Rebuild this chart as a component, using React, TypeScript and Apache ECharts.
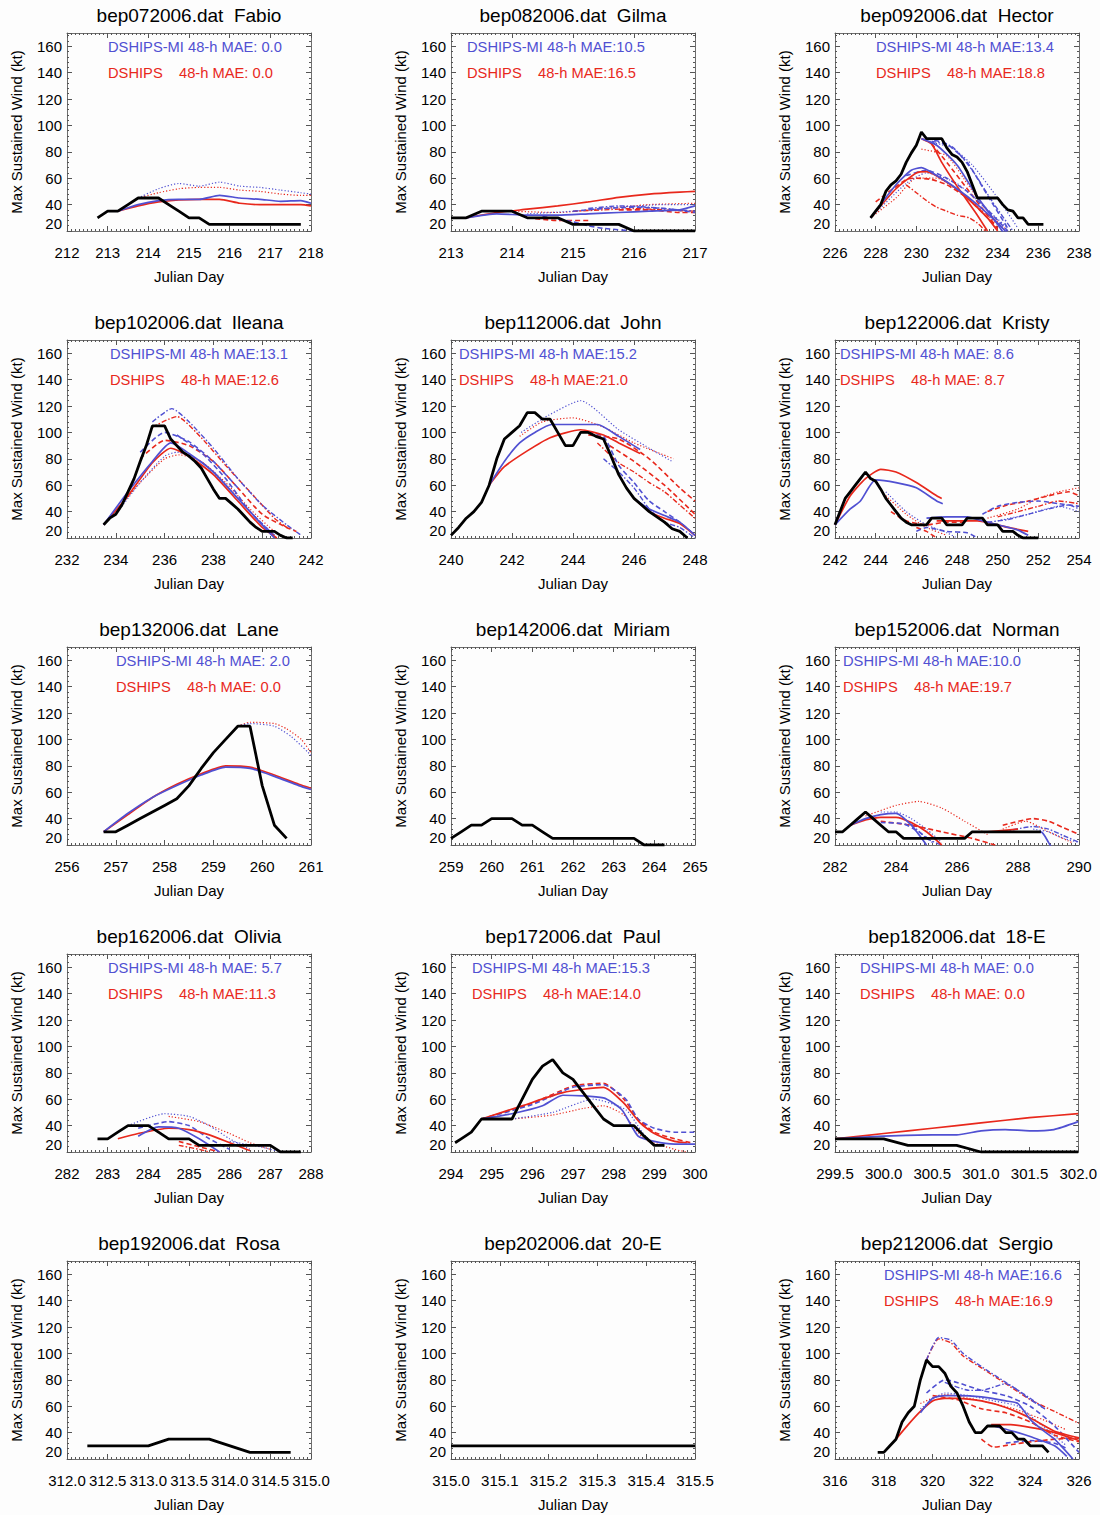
import React, { useEffect, useRef } from "react";
import * as echarts from "echarts";

type Pt = [number, number];
type Line = Pt[];

// ---------------- Fabio ----------------
const fabioAxis = [212, 218, 1];
const fabioBest: Line = [[212.75,30],[213,35],[213.25,35],[213.5,40],[213.75,45],[214,45],[214.25,45],[214.5,40],[214.75,35],[215,30],[215.25,30],[215.5,25],[217.75,25]];
const fabioMiSolid: Line[] = [[[213.25,35],[213.75,40],[214.25,43],[214.75,44],[215.25,44],[215.75,47],[216.25,45],[216.75,44],[217.25,42.5],[217.75,43],[218,41]]];
const fabioMiDotted: Line[] = [[[213.75,45],[214.25,52],[214.75,56],[215.25,54],[215.75,57],[216.25,54],[216.75,53],[217.25,51],[217.75,49],[218,48]]];
const fabioDsSolid: Line[] = [[[213.25,35],[213.75,39],[214.25,42],[214.75,43.5],[215.25,44],[215.75,44],[216.25,41],[216.75,40],[217.25,40],[217.75,40],[218,39]]];
const fabioDsDotted: Line[] = [[[213.75,45],[214.25,49],[214.75,52],[215.25,53],[215.75,53],[216.25,51],[216.75,50],[217.25,48],[217.75,47],[218,47]]];

// ---------------- Gilma ----------------
const gilmaAxis = [213, 217, 1];
const gilmaBest: Line = [[213,30],[213.25,30],[213.5,35],[214,35],[214.25,30],[214.75,30],[215,25],[215.75,25],[216,20],[217,20]];
const gilmaMiSolid: Line[] = [[[213.25,30],[213.75,33],[214.25,32],[214.75,32],[215.25,33],[215.75,34],[216.25,35],[216.75,36],[217,39]]];
const gilmaMiDashed: Line[] = [[[214.5,31],[215,27],[215.25,24],[215.5,22],[216,20]],[[215,35],[215.5,37],[216,38],[216.5,37],[217,34]]];
const gilmaMiDashdot: Line[] = [[[215.25,37],[215.75,39],[216.25,38],[216.75,36],[217,35]]];
const gilmaMiDotted: Line[] = [[[214.25,33],[215,35],[215.75,38],[216.5,40],[217,40]]];
const gilmaDsSolid: Line[] = [[[213.25,30],[213.75,34],[214.25,36.5],[214.75,39],[215.25,42],[215.75,45.5],[216.25,48],[216.75,49.5],[217,50]]];
const gilmaDsDashed: Line[] = [[[214.25,30],[214.75,28],[215.25,28]],[[215.75,36],[216.25,36],[216.75,34],[217,34]]];
const gilmaDsDashdot: Line[] = [[[215,35],[215.5,36],[216,37],[216.5,36],[217,35]]];
const gilmaDsDotted: Line[] = [[[214,35],[214.75,34],[215.5,37],[216.25,40],[217,41]]];

// ---------------- Hector ----------------
const hectorAxis = [226, 238, 2];
const hectorBest: Line = [[227.75,30],[228,35],[228.25,40],[228.5,50],[228.75,55],[229,58],[229.25,63],[229.5,72],[229.75,79],[230,85],[230.25,95],[230.5,90],[231,90],[231.25,90],[231.5,83],[231.75,78],[232,76],[232.25,72],[232.5,65],[232.75,55],[233,45],[234,45],[234.25,40],[234.5,36],[234.75,35],[235,30],[235.25,30],[235.5,25],[236.25,25]];
const hectorMiSolid: Line[] = [[[227.75,30],[229,55],[229.75,66],[230.25,68],[231,62],[232,52],[233,40],[234,26],[234.5,18]],[[230.25,90],[231,85],[232,70],[233,46],[234,25],[234.4,16]]];
const hectorMiDashed: Line[] = [[[230.5,90],[231.5,86],[232.5,72],[233.5,47],[234.5,22]],[[229.5,62],[230.5,66],[231.5,60],[232.5,50],[233.5,36],[234.5,20]]];
const hectorMiDashdot: Line[] = [[[230.75,88],[231.75,84],[232.75,66],[233.75,42],[234.75,20]]];
const hectorMiDotted: Line[] = [[[230.5,88],[231.75,83],[232.75,70],[234,45],[235,22]],[[227.75,30],[229.5,56],[230.5,64],[232,56],[233.5,36],[234.5,22]]];
const hectorDsSolid: Line[] = [[[227.75,30],[229,52],[230,64],[230.5,65],[231.5,57],[232.5,45],[233.5,30],[234,20]],[[230.25,90],[230.75,86],[231.25,72],[232,54],[233,32],[233.5,20]]];
const hectorDsDashed: Line[] = [[[228,42],[229.5,59],[230,60],[230.75,59],[231.5,55],[232.5,45],[233.5,30],[234,22]],[[230.75,86],[231.5,72],[232.5,52],[233.5,32],[234,22]]];
const hectorDsDashdot: Line[] = [[[229.5,55],[230,49],[230.5,43],[231,38],[231.5,35],[232,32],[232.6,30],[233,26],[233.4,20]]];
const hectorDsDotted: Line[] = [[[230.25,82],[231.5,77],[232.5,56],[233.5,35],[234.5,20]],[[227.75,30],[229,45],[230,60],[231,60],[232.5,45],[234,25]]];

// ---------------- Ileana ----------------
const ileanaAxis = [232, 242, 2];
const ileanaBest: Line = [[233.5,30],[233.75,35],[234,38],[234.25,45],[234.5,55],[234.75,65],[235,78],[235.25,90],[235.5,105],[236,105],[236.25,95],[236.5,90],[236.75,85],[237,82],[237.25,78],[237.5,73],[237.75,65],[238,57],[238.25,50],[238.5,50],[238.75,46],[239,42],[239.25,37],[239.5,32],[239.75,28],[240,25],[240.5,25],[240.75,22],[241,20],[241.25,20]];
const ileanaMiSolid: Line[] = [[[233.5,30],[234.5,55],[235.5,78],[236.25,92],[237,84],[238,70],[239,50],[240,30],[240.5,20]]];
const ileanaMiDashed: Line[] = [[[235,85],[236,100],[237,93],[238,78],[239,58]],[[236.5,98],[237.5,85],[238.5,65],[239.5,40],[240.5,22]]];
const ileanaMiDashdot: Line[] = [[[235.5,108],[236.3,118],[237,108],[238,88],[239,65],[240,45],[241,30],[241.6,22]]];
const ileanaMiDotted: Line[] = [[[234,38],[235,62],[236,82],[236.5,85],[237.5,78],[238.5,60],[239.5,40],[240.5,22]]];
const ileanaDsSolid: Line[] = [[[233.5,30],[234.5,52],[235.5,77],[236.25,88],[237,82],[238,68],[239,48],[240,28],[240.6,20]]];
const ileanaDsDashed: Line[] = [[[235,80],[236,94],[237,90],[238,78],[239,58],[240,38],[241,28],[241.4,25]]];
const ileanaDsDashdot: Line[] = [[[235.5,104],[236.5,112],[237.5,96],[238.5,75],[239.5,55],[240.5,35],[241,28]]];
const ileanaDsDotted: Line[] = [[[234,40],[235,62],[236,80],[236.6,83],[237.5,78],[238.5,62],[239.5,42],[240.5,25],[241,20]]];

// ---------------- John ----------------
const johnAxis = [240, 248, 2];
const johnBest: Line = [[240,22],[240.25,28],[240.5,35],[240.75,40],[241,47],[241.25,60],[241.5,80],[241.75,95],[242,100],[242.25,105],[242.5,115],[242.75,115],[243,110],[243.25,110],[243.5,100],[243.75,90],[244,90],[244.25,100],[244.5,100],[244.75,97],[245,95],[245.25,82],[245.5,68],[245.75,58],[246,50],[246.25,45],[246.5,40],[246.75,36],[247,32],[247.25,27],[247.5,25],[247.75,20]];
const johnMiSolid: Line[] = [[[241.25,60],[241.75,78],[242.25,92],[242.75,100],[243.3,106],[244,106],[244.8,106],[245.5,97],[246.2,87]],[[246,50],[246.5,42],[247,37],[247.5,32],[248,22]]];
const johnMiDashed: Line[] = [[[244.5,100],[245,97],[245.5,75],[246,62],[246.5,48],[247,40],[247.5,32],[248,22]]];
const johnMiDashdot: Line[] = [[[245,80],[245.5,70],[246,58],[246.5,42],[247,32],[247.5,28],[248,20]]];
const johnMiDotted: Line[] = [[[242.3,100],[243.2,113],[244.25,124],[245.5,102],[246.5,88],[247.25,78]]];
const johnDsSolid: Line[] = [[[241.25,60],[241.75,74],[242.5,86],[243.25,96],[244.25,102],[245,98],[245.5,92],[246.2,84]],[[246,50],[246.5,40],[247,35],[247.5,31],[248,22]]];
const johnDsDashed: Line[] = [[[244.5,98],[245.5,95],[246.5,80],[247.5,58],[248,48]],[[245.2,90],[246,78],[247,60],[248,38]]];
const johnDsDashdot: Line[] = [[[244.8,92],[245.5,77],[246,70],[246.5,62],[247,55],[247.5,45],[248,35]]];
const johnDsDotted: Line[] = [[[242.25,97],[243,108],[244,111],[245,104],[246,92],[247.3,80]]];

// ---------------- Kristy ----------------
const kristyAxis = [242, 254, 2];
const kristyBest: Line = [[242,30],[242.25,40],[242.5,50],[242.75,55],[243,60],[243.25,65],[243.5,70],[243.75,65],[244,63],[244.25,57],[244.5,50],[244.75,45],[245,40],[245.25,35],[245.5,32],[245.75,30],[246.5,30],[246.75,35],[247.25,35],[247.5,30],[248.25,30],[248.5,35],[249.25,35],[249.5,30],[250,30],[250.25,25],[250.75,25],[251,22],[251.25,20],[252,20]];
const kristyMiSolid: Line[] = [[[242,30],[242.75,42],[243.25,48],[244,64],[245,62],[246,58],[247,48],[247.3,46]],[[246.5,35],[247.5,36],[248.5,36],[249,34],[250,30],[251,26],[251.5,22]]];
const kristyMiDashed: Line[] = [[[249.25,38],[250,44],[251,47],[252,48],[253,46],[254,44]],[[246,25],[246.5,28],[247.5,25],[248.5,24],[249,20]]];
const kristyMiDashdot: Line[] = [[[249.5,32],[250.5,34],[251.5,38],[252.5,42],[253.5,45],[254,42]]];
const kristyMiDotted: Line[] = [[[244.5,55],[245.5,40],[246.5,30],[247.5,24],[248,20]],[[250,33],[251.5,38],[253,44],[254,40]]];
const kristyDsSolid: Line[] = [[[242,30],[242.75,52],[243.5,65],[244.25,72],[245,70],[246,62],[247,52],[247.25,50]],[[247,33],[248,33],[249,33],[250,30],[250.5,28],[251.5,25]]];
const kristyDsDashed: Line[] = [[[249.5,40],[250.5,45],[251.5,48],[252.5,52],[253.5,55],[254,52]],[[246,28],[246.5,25],[247,20]],[[244.75,40],[245.5,33],[246.5,30],[247.5,32],[248.5,32]]];
const kristyDsDashdot: Line[] = [[[250,36],[251,40],[252,44],[253,48],[254,46]]];
const kristyDsDotted: Line[] = [[[249.5,35],[251,42],[252,50],[253,55],[254,58]],[[244.5,52],[245.5,38],[246.5,28],[247.5,22]]];

// ---------------- Lane ----------------
const laneAxis = [256, 261, 1];
const laneBest: Line = [[256.75,30],[257,30],[257.25,35],[257.5,40],[257.75,45],[258,50],[258.25,55],[258.5,65],[258.75,78],[259,90],[259.25,100],[259.5,110],[259.75,110],[260,65],[260.25,35],[260.5,25]];
const laneMiSolid: Line[] = [[[256.75,30],[257.25,44],[257.75,56],[258.25,65],[258.75,73],[259.25,79],[259.75,78],[260.25,72],[260.75,65],[261,62]]];
const laneMiDotted: Line[] = [[[259.5,110],[259.75,112],[260.25,110],[260.6,102],[261,88]]];
const laneDsSolid: Line[] = [[[256.75,30],[257.25,43],[257.75,56],[258.25,66],[258.75,74],[259.25,80],[259.75,79],[260.25,73],[260.75,66],[261,63]]];
const laneDsDotted: Line[] = [[[259.5,110],[259.75,113],[260.25,112],[260.5,108],[260.8,100],[261,90]]];

// ---------------- Miriam ----------------
const miriamAxis = [259, 265, 1];
const miriamBest: Line = [[259,25],[259.25,30],[259.5,35],[259.75,35],[260,40],[260.5,40],[260.75,35],[261,35],[261.25,30],[261.5,25],[263.5,25],[263.75,20],[264.25,20]];

// ---------------- Norman ----------------
const normanAxis = [282, 290, 2];
const normanBest: Line = [[282,30],[282.25,30],[282.5,35],[282.75,40],[283,45],[283.25,40],[283.5,35],[283.75,30],[284,30],[284.25,25],[286.25,25],[286.5,30],[288.75,30]];
const normanMiSolid: Line[] = [[[282.5,35],[283,40],[283.5,43],[284,44],[284.5,35],[285,20]],[[286.5,30],[288.75,30],[289,22],[289.1,18]]];
const normanMiDashed: Line[] = [[[283.5,37],[284.25,36],[284.75,30],[285.2,22]]];
const normanMiDashdot: Line[] = [[[284.5,36],[285,25],[285.5,20]],[[287.5,30],[288.5,34],[289,32],[289.5,27],[290,22]]];
const normanMiDotted: Line[] = [[[283.5,45],[284,45],[284.5,40],[285,32],[285.5,22]],[[288.5,32],[289,30],[289.5,25],[290,22]]];
const normanDsSolid: Line[] = [[[282.5,35],[283,39],[283.5,41],[284,41],[284.5,37],[285,30],[285.5,20]],[[287,30],[288,32]]];
const normanDsDashed: Line[] = [[[283.5,38],[284.5,35],[285.5,30],[286.5,25],[287.25,20]],[[287.5,35],[288.5,40],[289,38],[289.5,33],[290,28]]];
const normanDsDotted: Line[] = [[[283,42],[284,50],[284.75,53],[285.5,48],[286.25,38],[287,28]],[[287.5,32],[288.25,38],[289,30],[289.75,22]]];

// ---------------- Olivia ----------------
const oliviaAxis = [282, 288, 1];
const oliviaBest: Line = [[282.75,30],[283,30],[283.25,35],[283.5,40],[284,40],[284.25,35],[284.5,30],[285,30],[285.25,25],[287,25],[287.25,20],[287.75,20]];
const oliviaMiSolid: Line[] = [[[283.75,32],[284.25,39],[284.75,38],[285.25,30],[285.75,20]]];
const oliviaMiDashed: Line[] = [[[283.75,38],[284.5,43],[285,40],[285.5,30],[286,22]]];
const oliviaMiDotted: Line[] = [[[283.5,40],[284.4,49],[285,47],[285.5,40],[286,30],[286.5,22]],[[286,28],[286.75,24],[287.25,20]]];
const oliviaDsSolid: Line[] = [[[283.25,30],[283.75,34],[284.5,38],[285,37],[285.5,33],[286,27],[286.5,21]]];
const oliviaDsDashed: Line[] = [[[284.75,28],[285.25,24],[285.75,20]]];
const oliviaDsDashdot: Line[] = [[[284.75,25],[285.25,22],[285.5,20]]];
const oliviaDsDotted: Line[] = [[[284.5,47],[285.25,43],[286,34],[286.5,27],[287,22]]];

// ---------------- Paul ----------------
const paulAxis = [294, 300, 1];
const paulBest: Line = [[294.1,27],[294.25,30],[294.5,35],[294.75,45],[295.5,45],[295.75,60],[296,75],[296.25,85],[296.5,90],[296.75,80],[297,75],[297.25,65],[297.5,55],[297.75,45],[298,40],[298.5,40],[298.75,32],[299,25],[299.25,25]];
const paulMiSolid: Line[] = [[[294.75,45],[295.5,49],[296.25,55],[296.75,63],[297.75,61],[298.2,52],[298.6,32],[299,28],[299.5,26],[300,26]]];
const paulMiDashed: Line[] = [[[294.75,45],[296,56],[297,69],[297.75,71],[298.3,60],[298.6,45],[299,38],[299.5,35],[300,35]]];
const paulMiDotted: Line[] = [[[295.5,45],[296.5,50],[297.5,60],[298.3,52],[298.7,35],[299,25]]];
const paulDsSolid: Line[] = [[[294.75,45],[295.75,55],[296.75,65],[297.75,69],[298.25,57],[298.65,42],[299,34],[299.5,28],[299.8,27]]];
const paulDsDashed: Line[] = [[[294.75,45],[296,57],[297,70],[297.75,72],[298.25,60],[298.6,45],[299,35],[299.5,30],[299.9,27]]];
const paulDsDotted: Line[] = [[[295.5,45],[296.5,48],[297.25,53],[297.75,55],[298.25,48],[298.75,30],[299.5,22],[299.8,20]]];

// ---------------- 18-E ----------------
const e18Axis = [299.5, 302.0, 0.5];
const e18Best: Line = [[299.5,30],[300,30],[300.25,25],[300.75,25],[301,20],[302,20]];
const e18MiSolid: Line[] = [[[299.5,30],[300,32],[300.5,33],[300.75,33],[301,36],[301.25,37],[301.5,36],[301.75,37],[302,43]]];
const e18DsSolid: Line[] = [[[299.5,30],[300,34],[300.5,38],[301,42],[301.5,46],[302,49]]];

// ---------------- Rosa ----------------
const rosaAxis = [312.0, 315.0, 0.5];
const rosaBest: Line = [[312.25,30],[313,30],[313.25,35],[313.75,35],[314.25,25],[314.75,25]];

// ---------------- 20-E ----------------
const e20Axis = [315.0, 315.5, 0.1];
const e20Best: Line = [[315.0,30],[315.5,30]];

// ---------------- Sergio ----------------
const sergioAxis = [316, 326, 2];
const sergioBest: Line = [[317.75,25],[318,25],[318.25,30],[318.5,35],[318.75,48],[319,55],[319.25,60],[319.5,80],[319.75,95],[320,90],[320.25,90],[320.5,85],[320.75,75],[321,70],[321.25,60],[321.5,48],[321.75,40],[322,40],[322.25,45],[322.75,45],[323,40],[323.25,40],[323.5,35],[323.75,35],[324,30],[324.5,30],[324.75,25]];
const sergioMiSolid: Line[] = [[[319.5,55],[320,66],[320.5,68],[321,68],[322,67],[323,64],[323.5,62],[324,50],[324.5,42],[325,35],[325.75,20]],[[322.5,45],[323.5,40],[324,37],[325,30],[325.5,22]]];
const sergioMiDashed: Line[] = [[[319.75,70],[320.5,80],[321,78],[322,72],[323,68],[324,60],[325,45],[326,25]],[[323,32],[324,34],[325,32],[325.5,28]]];
const sergioMiDashdot: Line[] = [[[319.75,95],[320.25,112],[320.75,110],[321.25,100],[322,90],[323,78],[324,66],[324.6,58]],[[320.5,78],[321.5,72],[322,72],[323,77],[324,65],[324.6,58]]];
const sergioMiDotted: Line[] = [[[319.5,58],[320.5,70],[321.5,68],[322.5,64],[323.5,60],[324.5,45],[325.5,30]]];
const sergioDsSolid: Line[] = [[[318.5,35],[319,46],[319.5,56],[320,64],[320.5,66],[321,66],[322,64],[323,59],[324,51],[325,41],[326,36]],[[322.4,46],[323.2,46],[324.3,43],[325,40],[326,34]]];
const sergioDsDashed: Line[] = [[[320,68],[321,65],[322,58],[323,55],[324,48],[325,38],[326,33]],[[322,35],[322.5,29],[323.25,31],[324,33],[325,35],[326,36]]];
const sergioDsDashdot: Line[] = [[[319.75,95],[320.25,111],[320.75,108],[321.25,98],[322,89],[323,77],[324,65],[325,56],[326,47]]];
const sergioDsDotted: Line[] = [[[319.5,62],[320.5,69],[321.5,66],[322.5,62],[323.5,57],[324.5,50],[325.5,42]]];

// ---------------- titles & MAE labels ----------------
const titles = [
  "bep072006.dat  Fabio", "bep082006.dat  Gilma", "bep092006.dat  Hector",
  "bep102006.dat  Ileana", "bep112006.dat  John", "bep122006.dat  Kristy",
  "bep132006.dat  Lane", "bep142006.dat  Miriam", "bep152006.dat  Norman",
  "bep162006.dat  Olivia", "bep172006.dat  Paul", "bep182006.dat  18-E",
  "bep192006.dat  Rosa", "bep202006.dat  20-E", "bep212006.dat  Sergio",
];
const maeMi = [" 0.0", "10.5", "13.4", "13.1", "15.2", " 8.6", " 2.0", "", "10.0", " 5.7", "15.3", " 0.0", "", "", "16.6"];
const maeDs = [" 0.0", "16.5", "18.8", "12.6", "21.0", " 8.7", " 0.0", "", "19.7", "11.3", "14.0", " 0.0", "", "", "16.9"];
const legendDx = [41, 16, 41, 43, 8, 5, 49, 0, 8, 41, 21, 25, 0, 0, 49];

type Sets = { solid?: Line[]; dashed?: Line[]; dashdot?: Line[]; dotted?: Line[] };
const panels: { axis: number[]; best: Line; mi: Sets; ds: Sets }[] = [
  { axis: fabioAxis, best: fabioBest, mi: { solid: fabioMiSolid, dotted: fabioMiDotted }, ds: { solid: fabioDsSolid, dotted: fabioDsDotted } },
  { axis: gilmaAxis, best: gilmaBest, mi: { solid: gilmaMiSolid, dashed: gilmaMiDashed, dashdot: gilmaMiDashdot, dotted: gilmaMiDotted }, ds: { solid: gilmaDsSolid, dashed: gilmaDsDashed, dashdot: gilmaDsDashdot, dotted: gilmaDsDotted } },
  { axis: hectorAxis, best: hectorBest, mi: { solid: hectorMiSolid, dashed: hectorMiDashed, dashdot: hectorMiDashdot, dotted: hectorMiDotted }, ds: { solid: hectorDsSolid, dashed: hectorDsDashed, dashdot: hectorDsDashdot, dotted: hectorDsDotted } },
  { axis: ileanaAxis, best: ileanaBest, mi: { solid: ileanaMiSolid, dashed: ileanaMiDashed, dashdot: ileanaMiDashdot, dotted: ileanaMiDotted }, ds: { solid: ileanaDsSolid, dashed: ileanaDsDashed, dashdot: ileanaDsDashdot, dotted: ileanaDsDotted } },
  { axis: johnAxis, best: johnBest, mi: { solid: johnMiSolid, dashed: johnMiDashed, dashdot: johnMiDashdot, dotted: johnMiDotted }, ds: { solid: johnDsSolid, dashed: johnDsDashed, dashdot: johnDsDashdot, dotted: johnDsDotted } },
  { axis: kristyAxis, best: kristyBest, mi: { solid: kristyMiSolid, dashed: kristyMiDashed, dashdot: kristyMiDashdot, dotted: kristyMiDotted }, ds: { solid: kristyDsSolid, dashed: kristyDsDashed, dashdot: kristyDsDashdot, dotted: kristyDsDotted } },
  { axis: laneAxis, best: laneBest, mi: { solid: laneMiSolid, dotted: laneMiDotted }, ds: { solid: laneDsSolid, dotted: laneDsDotted } },
  { axis: miriamAxis, best: miriamBest, mi: {}, ds: {} },
  { axis: normanAxis, best: normanBest, mi: { solid: normanMiSolid, dashed: normanMiDashed, dashdot: normanMiDashdot, dotted: normanMiDotted }, ds: { solid: normanDsSolid, dashed: normanDsDashed, dotted: normanDsDotted } },
  { axis: oliviaAxis, best: oliviaBest, mi: { solid: oliviaMiSolid, dashed: oliviaMiDashed, dotted: oliviaMiDotted }, ds: { solid: oliviaDsSolid, dashed: oliviaDsDashed, dashdot: oliviaDsDashdot, dotted: oliviaDsDotted } },
  { axis: paulAxis, best: paulBest, mi: { solid: paulMiSolid, dashed: paulMiDashed, dotted: paulMiDotted }, ds: { solid: paulDsSolid, dashed: paulDsDashed, dotted: paulDsDotted } },
  { axis: e18Axis, best: e18Best, mi: { solid: e18MiSolid }, ds: { solid: e18DsSolid } },
  { axis: rosaAxis, best: rosaBest, mi: {}, ds: {} },
  { axis: e20Axis, best: e20Best, mi: {}, ds: {} },
  { axis: sergioAxis, best: sergioBest, mi: { solid: sergioMiSolid, dashed: sergioMiDashed, dashdot: sergioMiDashdot, dotted: sergioMiDotted }, ds: { solid: sergioDsSolid, dashed: sergioDsDashed, dashdot: sergioDsDashdot, dotted: sergioDsDotted } },
];

// ---------------- layout & style ----------------
const COLS = [67, 451, 835];
const ROWS = [33, 340, 647, 954, 1261];
const GW = 244;
const GH = 198;
const BLUE = "#5050d2";
const RED = "#e8281c";
const FRAME = "#6e6e6e";
const TICK = "#555";
const FONT = "'Liberation Sans', Arial, Helvetica, sans-serif";
const DASH: Record<string, { type: any; width: number }> = {
  solid: { type: "solid", width: 1.7 },
  dashed: { type: [5, 3], width: 1.6 },
  dashdot: { type: [5, 2, 1.5, 2], width: 1.4 },
  dotted: { type: [1.2, 2], width: 1.2 },
};

function buildOption() {
  const grid: any[] = [];
  const xAxis: any[] = [];
  const yAxis: any[] = [];
  const series: any[] = [];
  const graphic: any[] = [];

  panels.forEach((p, i) => {
    const left = COLS[i % 3];
    const top = ROWS[Math.floor(i / 3)];
    grid.push({ left, top, width: GW, height: GH, containLabel: false });
    const [mn, mx, step] = p.axis;
    const nMaj = Math.round((mx - mn) / step);
    const minorN = Math.max(2, Math.round(GW / nMaj / 4));
    const dec = step < 1 ? 1 : 0;
    const xCommon = {
      type: "value", gridIndex: i, min: mn, max: mx, interval: step,
      splitLine: { show: false },
      axisLine: { show: true, onZero: false, lineStyle: { color: FRAME, width: 1 } },
      axisTick: { show: true, inside: true, length: 5, lineStyle: { color: TICK } },
      minorTick: { show: true, splitNumber: minorN, length: 2, lineStyle: { color: TICK } },
    };
    xAxis.push({
      ...xCommon, position: "bottom",
      axisLabel: { show: true, fontSize: 15, color: "#000", margin: 14, fontFamily: FONT, formatter: (v: number) => v.toFixed(dec) },
      name: "Julian Day", nameLocation: "middle", nameGap: 38,
      nameTextStyle: { fontSize: 15, color: "#000", fontFamily: FONT },
    });
    xAxis.push({ ...xCommon, position: "top", axisLabel: { show: false } });
    const yCommon = {
      type: "value", gridIndex: i, min: 20, max: 170, interval: 20,
      splitLine: { show: false },
      axisLine: { show: true, onZero: false, lineStyle: { color: FRAME, width: 1 } },
      axisTick: { show: true, inside: true, length: 5, lineStyle: { color: TICK } },
      minorTick: { show: true, splitNumber: 5, length: 2, lineStyle: { color: TICK } },
    };
    yAxis.push({
      ...yCommon, position: "left",
      axisLabel: { show: true, fontSize: 15, color: "#000", margin: 5, fontFamily: FONT, showMaxLabel: false, verticalAlignMinLabel: "bottom" },
      name: "Max Sustained Wind (kt)", nameLocation: "middle", nameGap: 43,
      nameTextStyle: { fontSize: 15, color: "#000", fontFamily: FONT },
    });
    yAxis.push({ ...yCommon, position: "right", axisLabel: { show: false } });

    const xi = 2 * i;
    const yi = 2 * i;
    (["dotted", "dashdot", "dashed", "solid"] as const).forEach((k) => {
      (p.ds[k] || []).forEach((ln) =>
        series.push({ type: "line", xAxisIndex: xi, yAxisIndex: yi, data: ln, showSymbol: false, smooth: 0.2, silent: true, lineStyle: { color: RED, width: DASH[k].width, type: DASH[k].type } })
      );
      (p.mi[k] || []).forEach((ln) =>
        series.push({ type: "line", xAxisIndex: xi, yAxisIndex: yi, data: ln, showSymbol: false, smooth: 0.2, silent: true, lineStyle: { color: BLUE, width: DASH[k].width, type: DASH[k].type } })
      );
    });
    series.push({ type: "line", xAxisIndex: xi, yAxisIndex: yi, data: p.best, showSymbol: false, silent: true, z: 5, lineStyle: { color: "#000", width: 2.8 } });

    graphic.push({ type: "text", x: left + GW / 2, y: top - 18, style: { text: titles[i], fill: "#000", font: `19px ${FONT}`, align: "center", verticalAlign: "middle" } });
    if (maeMi[i]) {
      const lx = left + legendDx[i];
      graphic.push({ type: "text", x: lx, y: top + 13.5, style: { text: `DSHIPS-MI 48-h MAE:${maeMi[i]}`, fill: BLUE, font: `14.7px ${FONT}`, align: "left", verticalAlign: "middle" } });
      graphic.push({ type: "text", x: lx, y: top + 40, style: { text: "DSHIPS", fill: RED, font: `14.7px ${FONT}`, align: "left", verticalAlign: "middle" } });
      graphic.push({ type: "text", x: lx + 71, y: top + 40, style: { text: `48-h MAE:${maeDs[i]}`, fill: RED, font: `14.7px ${FONT}`, align: "left", verticalAlign: "middle" } });
    }
  });

  return { animation: false, backgroundColor: "#fdfdfd", textStyle: { fontFamily: FONT }, grid, xAxis, yAxis, series, graphic };
}

export default function App() {
  const ref = useRef<HTMLDivElement>(null);
  useEffect(() => {
    document.body.style.margin = "0";
    if (!ref.current) return;
    const chart = echarts.init(ref.current, undefined, { renderer: "svg" });
    chart.setOption(buildOption() as any);
    return () => chart.dispose();
  }, []);
  return <div ref={ref} style={{ width: 1100, height: 1515, position: "absolute", left: 0, top: 0 }} />;
}
